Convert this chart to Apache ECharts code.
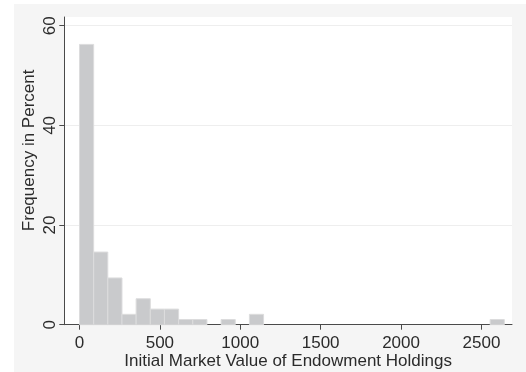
<!DOCTYPE html>
<html>
<head>
<meta charset="utf-8">
<style>html,body{margin:0;padding:0;background:#fff;}#c{width:526px;height:372px;}</style>
<script src="https://cdn.jsdelivr.net/npm/echarts@6/dist/echarts.min.js"></script>
</head>
<body>
<div id="c"></div>
<script>
// Histogram bins (only non-empty bins), values in data units
const binStart = [0, 88.1, 176.1, 264.2, 352.3, 440.4, 528.4, 616.5, 704.6, 880.7, 1056.8, 2554.0];
const binEnd   = [88.1, 176.1, 264.2, 352.3, 440.4, 528.4, 616.5, 704.6, 792.6, 968.8, 1144.9, 2642.1];
const percent  = [56.25, 14.58, 9.38, 2.08, 5.21, 3.13, 3.13, 1.04, 1.04, 1.04, 2.08, 1.04];
const xTicks = [0, 500, 1000, 1500, 2000, 2500];
const yTicks = [0, 20, 40, 60];
const xTitle = 'Initial Market Value of Endowment Holdings';
const yTitle = 'Frequency in Percent';

const data = binStart.map((s, i) => [s, binEnd[i], percent[i]]);
const FONT = '"Liberation Sans", Arial, sans-serif';
const chart = echarts.init(document.getElementById('c'));
chart.setOption({
  animation: false,
  backgroundColor: '#ffffff',
  graphic: [{
    type: 'rect', z: -10, silent: true,
    shape: {x: 14, y: 4, width: 512, height: 368},
    style: {fill: '#f5f5f5'}
  }],
  grid: {left: 64.3, right: 14, top: 17, bottom: 47.3, containLabel: false, outerBoundsMode: 'none',
    show: true, backgroundColor: '#ffffff', borderWidth: 0},
  xAxis: {
    type: 'value', min: -94.5, max: 2690,
    axisLine: {show: true, onZero: false, lineStyle: {color: '#4a4a4a', width: 1}},
    axisTick: {show: true, length: 5, customValues: xTicks, lineStyle: {color: '#4a4a4a'}},
    axisLabel: {customValues: xTicks, margin: 10, fontFamily: FONT, fontSize: 17, color: '#2b2b2b',
      formatter: function (v) { return String(v); }},
    splitLine: {show: false},
    name: xTitle, nameLocation: 'middle', nameGap: 28, nameMoveOverlap: false,
    nameTextStyle: {fontFamily: FONT, fontSize: 17, color: '#2b2b2b'}
  },
  yAxis: {
    type: 'value', min: 0, max: 61.75, interval: 20,
    axisLine: {show: true, onZero: false, lineStyle: {color: '#4a4a4a', width: 1}},
    axisTick: {show: true, length: 5, customValues: yTicks, lineStyle: {color: '#4a4a4a'}},
    axisLabel: {customValues: yTicks, rotate: 90, margin: 5, fontFamily: FONT, fontSize: 17, color: '#2b2b2b'},
    splitLine: {show: true, lineStyle: {color: '#eeeeee', width: 1}},
    name: yTitle, nameLocation: 'middle', nameGap: 26, nameMoveOverlap: false,
    nameTextStyle: {fontFamily: FONT, fontSize: 17, color: '#2b2b2b', padding: [0, 0, 0, 41]}
  },
  series: [{
    type: 'custom',
    data: data,
    encode: {x: [0, 1], y: 2},
    renderItem: function (params, api) {
      const p0 = api.coord([api.value(0), api.value(2)]);
      const p1 = api.coord([api.value(1), 0]);
      return {
        type: 'rect',
        shape: {x: p0[0], y: p0[1], width: p1[0] - p0[0], height: p1[1] - p0[1]},
        style: {fill: '#c9cacc', stroke: '#dcdcdd', lineWidth: 1}
      };
    }
  }]
});
</script>
</body>
</html>
